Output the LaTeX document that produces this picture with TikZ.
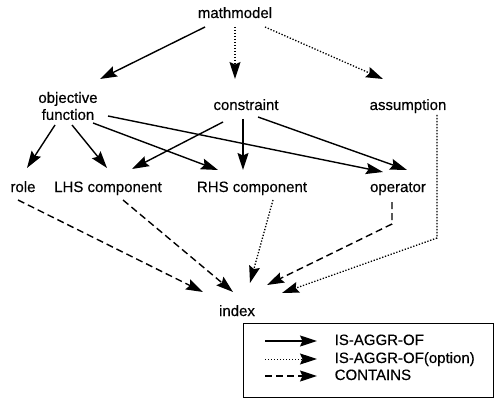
\documentclass[tikz,border=0pt]{standalone}
\usepackage{fontspec}
\setmainfont[FakeBold=0.4]{Liberation Sans}
\usetikzlibrary{arrows.meta,calc,positioning}

\begin{document}
\begin{tikzpicture}[x=1pt, y=-1pt,
		>={Stealth[length=17pt,width=11pt,inset=2.5pt]},
		line width=1.4pt,
		aggr/.style = {->},
		aggropt/.style = {->, line width=1.3pt, dash pattern=on 1.3pt off 1.7pt},
		contain/.style = {->, dash pattern=on 7pt off 4pt},
		every node/.append style = {font=\fontsize{15}{17}\selectfont, inner sep=0pt, text height=11pt, text depth=3pt}
		]
		\useasboundingbox (0,0) rectangle (498,401);
		
		\node (mm)   at (235,14)  {mathmodel};
		
		\node (obj)  at (68,106)  [align=center, text height=, text depth=] {objective\\function};
		\node (con)  at (246,106) {constraint};
		\node (asm)  at (408,106) {assumption};
		
		\node (role) at (23,188)  {role};
		\node (lhs)  at (108,188) {LHS component};
		\node (rhs)  at (252,188) {RHS component};
		\node (op)   at (398,188) {operator};
		
		\node (idx)  at (237,312) {index};
		
		%legend
		\node (legend) at (368,360) [draw, line width=1pt, minimum width=250pt, minimum height=74pt] {};
		\node (l1) at (334,341) [anchor=west] {IS-AGGR-OF};
		\node (l2) at (334,359) [anchor=west] {IS-AGGR-OF(option)};
		\node (l3) at (334,376) [anchor=west] {CONTAINS};
		
		\path
		%from mathmodel
		($(mm)+(-30,13)$)  edge [aggr]    ($(obj)+(32,-27)$)
		($(mm)+(0,13)$)    edge [aggropt] ($(con)+(-11,-27)$)
		($(mm)+(30,13)$)   edge [aggropt] ($(asm)+(-25,-27)$)
		
		%from objective function
		($(obj)+(-13,19)$) edge [aggr]    ($(role)+(4,-20)$)
		($(obj)+(4,19)$)   edge [aggr]    ($(lhs)+(-1,-20)$)
		($(obj)+(25,17)$)  edge [aggr]    ($(rhs)+(-34,-18)$)
		($(obj)+(40,10)$)  edge [aggr]    ($(op)+(-15,-16)$)
		
		%from constraint
		($(con)+(-23,16)$) edge [aggr]    ($(lhs)+(24,-19)$)
		($(con)+(-3,13)$)  edge [aggr]    ($(rhs)+(-9,-18)$)
		($(con)+(12,11)$)  edge [aggr]    ($(op)+(9,-18)$)
		
		%into index
		($(role)+(-5,12)$) edge [contain] ($(idx)+(-34,-20)$)
		($(lhs)+(15,12)$)  edge [contain] ($(idx)+(-4,-20)$)
		($(rhs)+(21,12)$)  edge [aggropt] ($(idx)+(13,-29)$)
		;
		\draw[contain] ($(op)+(-6,14)$) -- ($(op)+(-6,36)$) -- ($(idx)+(30,-27)$);
		\draw[aggropt] ($(asm)+(29,9)$) -- ($(asm)+(29,132)$) -- ($(idx)+(45,-19)$);
		
		%legend lines
		\draw[aggr]    ([xshift=-69pt]l1.west) -- ([xshift=-17pt]l1.west);
		\draw[aggropt, line width=1pt] ([xshift=-69pt]l2.west) -- ([xshift=-17pt]l2.west);
		\draw[contain] ([xshift=-69pt]l3.west) -- ([xshift=-17pt]l3.west);
		
\end{tikzpicture}
\end{document}
